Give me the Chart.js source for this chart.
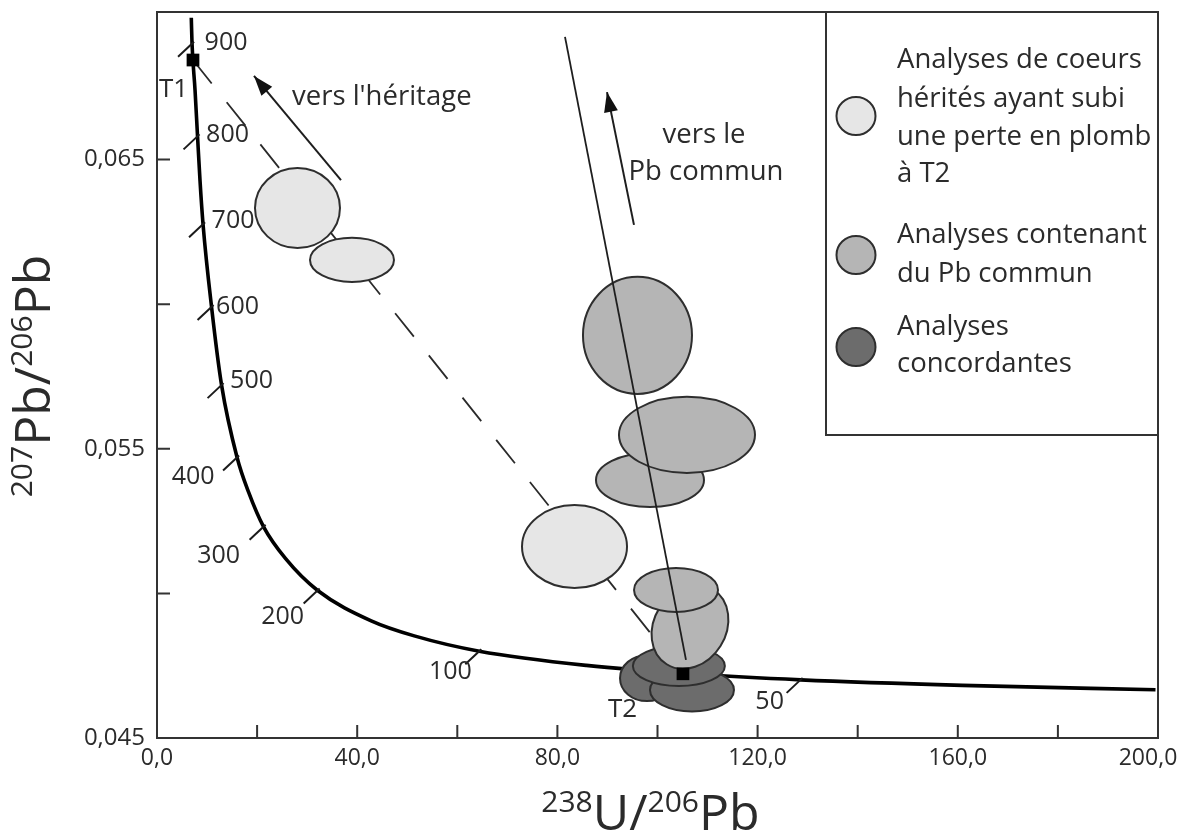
<!DOCTYPE html>
<html><head><meta charset="utf-8">
<script src="https://cdn.jsdelivr.net/npm/chart.js@4.4.1/dist/chart.umd.min.js"></script>
<style>html,body{margin:0;padding:0;background:#fff;}#wrap{width:1179px;height:834px;}</style>
</head><body><div id="wrap"><canvas id="c" width="1179" height="834"></canvas></div>
<script>
// ---------- DATA ----------
const concordiaX = [6.85, 7.0, 7.6, 8.1, 8.6, 9.2, 10.9, 12.9, 16.0, 18.3, 21.3, 25.7, 32.1, 42.8, 51.4, 64.4, 85.8, 107.2, 128.6, 160.9, 199.5];
const concordiaY = [0.0699, 0.0690, 0.0674, 0.0658, 0.06425, 0.06276, 0.0599, 0.0572, 0.0547, 0.0535, 0.0523, 0.0512, 0.0501, 0.04905, 0.04853, 0.0480, 0.04751, 0.04721, 0.04701, 0.04682, 0.04667];

const ageLabels = ['900', '800', '700', '600', '500', '400', '300', '200', '100', '50'];
const ageX = [7.0, 8.1, 9.2, 10.9, 12.9, 16.0, 21.3, 32.1, 64.4, 128.6];
const ageY = [0.0690, 0.0658, 0.06276, 0.0599, 0.0572, 0.0547, 0.0523, 0.0501, 0.0480, 0.04701];

const pointNames = ['T1', 'T2'];
const pointX = [7.19, 105.09];
const pointY = [0.06844, 0.04722];

const discordiaX = [7.19, 105.09];
const discordiaY = [0.06844, 0.04722];

const commonPbX = [81.52, 105.69];
const commonPbY = [0.06924, 0.04770];

const heritageArrowX = [36.76, 19.38];
const heritageArrowY = [0.06429, 0.06789];
const commonArrowX = [95.30, 89.91];
const commonArrowY = [0.06274, 0.06733];

// ellipses: group 0 = inherited cores, 1 = common Pb, 2 = concordant (listed in drawing order)
const ellipseGroup = [0, 0, 0, 2, 2, 2, 1, 1, 1, 1, 1];
const ellipseX     = [28.07, 38.96, 83.42, 97.90, 106.89, 104.27, 106.49, 103.70, 96.00, 98.50, 105.89];
const ellipseY     = [0.06332, 0.06153, 0.05162, 0.04707, 0.04666, 0.04749, 0.04884, 0.05012, 0.05892, 0.05392, 0.05548];
const ellipseRX    = [8.49, 8.39, 10.49, 5.39, 8.39, 9.19, 7.19, 8.39, 10.89, 10.79, 13.59];
const ellipseRY    = [0.001383, 0.000761, 0.001435, 0.000795, 0.000743, 0.000692, 0.001521, 0.000761, 0.002023, 0.000933, 0.001314];
const ellipseAngle = [0, 0, 0, 0, 0, 0, 32, 0, 0, 0, 0];

const xTickValues = [0, 20, 40, 60, 80, 100, 120, 140, 160, 180, 200];
const xTickLabels = ['0,0', '', '40,0', '', '80,0', '', '120,0', '', '160,0', '', '200,0'];
const yTickValues = [0.045, 0.050, 0.055, 0.060, 0.065];
const yTickLabels = ['0,045', '', '0,055', '', '0,065'];

const annotationTexts = ["vers l'héritage", 'vers le', 'Pb commun'];
const annotationX = [26.97, 109.29, 109.69];
const annotationY = [0.06688, 0.06557, 0.06429];

const legendGroups = [
  ['Analyses de coeurs', 'hérités ayant subi', 'une perte en plomb', 'à T2'],
  ['Analyses contenant', 'du Pb commun'],
  ['Analyses', 'concordantes']
];

// ---------- STYLE ----------
const FONT = '"Open Sans", "Noto Sans", sans-serif';
const INK = '#2b2b2b';
const FILLS = ['#e6e6e6', '#b5b5b5', '#6c6c6c'];
const ageLabelOffsets = [[34, -1], [30, -1], [30, -3], [26, 0], [30, -4], [-44, 19], [-45, 29], [-35, 26], [-29, 21], [-31, 22]];
const annotationAlign = ['left', 'center', 'center'];
const pointLabelOffsets = [[-34, 37], [-75, 43]];
const lastXLabelShift = -10;

function pts(xs, ys) { return xs.map((v, i) => ({ x: v, y: ys[i] })); }

function drawRich(ctx, parts, cx, base, F, f) {
  let w = 0;
  parts.forEach(p => { ctx.font = (p.sup ? f : F) + 'px ' + FONT; p.w = ctx.measureText(p.t).width; w += p.w; });
  let x = cx - w / 2;
  ctx.textAlign = 'left';
  ctx.textBaseline = 'alphabetic';
  parts.forEach(p => {
    ctx.font = (p.sup ? f : F) + 'px ' + FONT;
    ctx.fillText(p.t, x, p.sup ? base - F * 0.36 : base);
    x += p.w;
  });
}

function arrowHead(ctx, x0, y0, x1, y1) {
  const a = Math.atan2(y1 - y0, x1 - x0), L = 20, W = 7;
  ctx.beginPath();
  ctx.moveTo(x1, y1);
  ctx.lineTo(x1 - L * Math.cos(a) + W * Math.sin(a), y1 - L * Math.sin(a) - W * Math.cos(a));
  ctx.lineTo(x1 - L * Math.cos(a) - W * Math.sin(a), y1 - L * Math.sin(a) + W * Math.cos(a));
  ctx.closePath();
  ctx.fill();
}

const diagram = {
  id: 'diagram',
  beforeDraw(chart) {
    // keep the last x label inside the canvas, as in the original figure
    const xs = chart.scales.x;
    const items = xs.getLabelItems();
    const last = items[items.length - 1];
    if (last && last.options && last.options.translation) {
      last.options.translation = [xs.getPixelForValue(xs.max) + lastXLabelShift, last.options.translation[1]];
    }
  },
  afterDatasetDraw(chart, args) {
    if (args.index !== 4) return;
    const { ctx, chartArea: ca } = chart;
    const xs = chart.scales.x, ys = chart.scales.y;
    ctx.save();
    ctx.beginPath(); ctx.rect(ca.left, ca.top, ca.right - ca.left, ca.bottom - ca.top); ctx.clip();
    ctx.lineWidth = 2; ctx.strokeStyle = '#2e2e2e';
    for (let i = 0; i < ellipseX.length; i++) {
      const cx = xs.getPixelForValue(ellipseX[i]), cy = ys.getPixelForValue(ellipseY[i]);
      const rx = Math.abs(xs.getPixelForValue(ellipseX[i] + ellipseRX[i]) - cx);
      const ry = Math.abs(ys.getPixelForValue(ellipseY[i] + ellipseRY[i]) - cy);
      ctx.beginPath();
      ctx.ellipse(cx, cy, rx, ry, ellipseAngle[i] * Math.PI / 180, 0, Math.PI * 2);
      ctx.fillStyle = FILLS[ellipseGroup[i]];
      ctx.fill(); ctx.stroke();
    }
    ctx.restore();
  },
  afterDatasetsDraw(chart) {
    const { ctx, chartArea: ca } = chart;
    const xs = chart.scales.x, ys = chart.scales.y;
    ctx.save();
    // frame
    ctx.strokeStyle = '#333'; ctx.lineWidth = 2;
    ctx.strokeRect(ca.left, ca.top, ca.right - ca.left, ca.bottom - ca.top);
    // inward ticks
    ctx.beginPath();
    xTickValues.forEach(v => { if (v > xs.min && v < xs.max) { const p = xs.getPixelForValue(v); ctx.moveTo(p, ca.bottom); ctx.lineTo(p, ca.bottom - 13); } });
    yTickValues.forEach(v => { if (v > ys.min && v < ys.max) { const p = ys.getPixelForValue(v); ctx.moveTo(ca.left, p); ctx.lineTo(ca.left + 13, p); } });
    ctx.stroke();
    // age ticks + labels
    ctx.strokeStyle = '#1a1a1a'; ctx.lineWidth = 2; ctx.fillStyle = INK;
    ctx.font = '25px ' + FONT; ctx.textAlign = 'center'; ctx.textBaseline = 'middle';
    ageLabels.forEach((lab, i) => {
      const px = xs.getPixelForValue(ageX[i]), py = ys.getPixelForValue(ageY[i]);
      ctx.beginPath(); ctx.moveTo(px + 2, py - 2); ctx.lineTo(px - 14, py + 13); ctx.stroke();
      ctx.fillText(lab, px + ageLabelOffsets[i][0], py + ageLabelOffsets[i][1]);
    });
    // arrowheads
    ctx.fillStyle = '#111';
    [[heritageArrowX, heritageArrowY], [commonArrowX, commonArrowY]].forEach(([ax, ay]) => {
      arrowHead(ctx, xs.getPixelForValue(ax[0]), ys.getPixelForValue(ay[0]), xs.getPixelForValue(ax[1]), ys.getPixelForValue(ay[1]));
    });
    // annotations
    ctx.fillStyle = INK; ctx.font = '27.5px ' + FONT; ctx.textBaseline = 'alphabetic';
    annotationTexts.forEach((t, i) => {
      ctx.textAlign = annotationAlign[i];
      ctx.fillText(t, xs.getPixelForValue(annotationX[i]), ys.getPixelForValue(annotationY[i]));
    });
    // point names
    ctx.textAlign = 'left'; ctx.font = '26px ' + FONT;
    pointNames.forEach((n, i) => {
      ctx.fillText(n, xs.getPixelForValue(pointX[i]) + pointLabelOffsets[i][0], ys.getPixelForValue(pointY[i]) + pointLabelOffsets[i][1]);
    });
    // legend box
    const bw = 332, bh = 423, bx = ca.right - bw, by = ca.top;
    ctx.fillStyle = '#fff'; ctx.fillRect(bx, by, bw, bh);
    ctx.strokeStyle = '#333'; ctx.lineWidth = 2; ctx.strokeRect(bx, by, bw, bh);
    const circleY = [104, 243, 335];
    const lineY = [[56, 95, 133, 170], [231, 270], [323, 360]];
    legendGroups.forEach((g, gi) => {
      ctx.beginPath(); ctx.ellipse(bx + 30, by + circleY[gi], 19.5, 19, 0, 0, Math.PI * 2);
      ctx.fillStyle = FILLS[gi]; ctx.fill(); ctx.strokeStyle = '#2e2e2e'; ctx.lineWidth = 2; ctx.stroke();
      ctx.fillStyle = INK; ctx.font = '27.5px ' + FONT; ctx.textAlign = 'left'; ctx.textBaseline = 'alphabetic';
      g.forEach((line, li) => ctx.fillText(line, bx + 71, by + lineY[gi][li]));
    });
    ctx.restore();
  },
  afterDraw(chart) {
    const { ctx, chartArea: ca } = chart;
    ctx.save();
    ctx.fillStyle = INK;
    drawRich(ctx, [{ t: '238', sup: true }, { t: 'U' }, { t: '/' }, { t: '206', sup: true }, { t: 'Pb' }], (ca.left + ca.right) / 2 - 7, 830, 50, 30);
    ctx.translate(50, 376); ctx.rotate(-Math.PI / 2);
    drawRich(ctx, [{ t: '207', sup: true }, { t: 'Pb' }, { t: '/' }, { t: '206', sup: true }, { t: 'Pb' }], 0, 0, 50, 30);
    ctx.restore();
  }
};

const line = (xs, ys, extra) => Object.assign({ data: pts(xs, ys), showLine: true, pointRadius: 0, borderColor: '#1e1e1e', borderWidth: 2, fill: false }, extra);

new Chart(document.getElementById('c'), {
  type: 'scatter',
  data: {
    datasets: [
      { label: 'T1/T2', data: pts(pointX, pointY), pointStyle: 'rect', pointRadius: 9, pointBackgroundColor: '#000', pointBorderWidth: 0, showLine: false },
      line(heritageArrowX, heritageArrowY, { label: 'héritage' }),
      line(commonArrowX, commonArrowY, { label: 'Pb commun' }),
      line(commonPbX, commonPbY, { label: 'droite Pb commun', borderWidth: 1.8 }),
      line(discordiaX, discordiaY, { label: 'discordia', borderDash: [30, 24], borderWidth: 1.8, borderColor: '#2a2a2a' }),
      line(concordiaX, concordiaY, { label: 'concordia', borderWidth: 3.6, borderColor: '#000', cubicInterpolationMode: 'monotone' })
    ]
  },
  options: {
    responsive: false, animation: false, events: [],
    layout: { padding: { top: 12, right: 21, left: 0, bottom: 0 } },
    plugins: { legend: { display: false }, tooltip: { enabled: false } },
    scales: {
      x: {
        type: 'linear', min: 0, max: 200,
        afterBuildTicks: s => { s.ticks = xTickValues.map(v => ({ value: v })); },
        afterFit: s => { s.height = 96; s.paddingLeft = 0; s.paddingRight = 0; },
        grid: { display: false, drawTicks: false }, border: { display: false },
        ticks: { autoSkip: false, maxRotation: 0, padding: 7, color: INK, font: { family: FONT, size: 23 }, callback: (v, i) => xTickLabels[i] }
      },
      y: {
        type: 'linear', min: 0.045, max: 0.0701,
        afterBuildTicks: s => { s.ticks = yTickValues.map(v => ({ value: v })); },
        afterFit: s => { s.width = 157; s.paddingTop = 0; s.paddingBottom = 0; },
        grid: { display: false, drawTicks: false }, border: { display: false },
        ticks: { autoSkip: false, padding: 12, color: INK, font: { family: FONT, size: 24 }, callback: (v, i) => yTickLabels[i] }
      }
    }
  },
  plugins: [diagram]
});
</script>
</body></html>
